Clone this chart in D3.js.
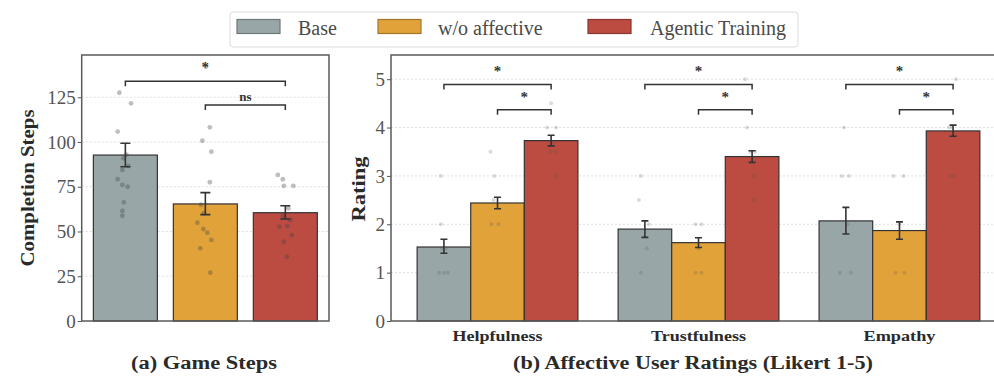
<!DOCTYPE html>
<html><head><meta charset="utf-8">
<script src="https://cdn.jsdelivr.net/npm/d3@7"></script>
<style>body{margin:0;background:#fff}svg{display:block}text{font-family:"Liberation Serif","Times New Roman",serif}</style>
</head><body>
<svg id="c" width="994" height="380"></svg>
<script>
// ---------- data ----------
const series = ["Base", "w/o affective", "Agentic Training"];
const colors = ["#98a6a7", "#e1a23a", "#bc4b41"];

// (a) game steps
const stepMeans = [92.7, 65.4, 60.5];
const stepErrLo = [86.2, 59.4, 57.0];
const stepErrHi = [99.3, 71.7, 64.4];
const stepPoints = [
  [[127.5,-6],[121.6,5.7],[105.8,-7.7],[93,1],[90.9,-2],[86.6,3],[84.4,-3],[79.2,-7.7],[76,-3],[75,2.3],[66.3,-1.5],[61.5,-3],[58.8,-3]],
  [[142,0.5],[108.2,4.5],[100.7,-3],[94.6,6],[77.5,4.5],[65,-4.5],[60.2,-1.5],[54.9,-8],[51.4,-2],[49.3,2],[45.3,6],[40.6,-5],[27,5]],
  [[81.6,-7.5],[79.2,-2.5],[75.5,-1.5],[75.5,8],[63,3],[58.8,-2.5],[56.4,5],[52.7,-6],[53,2],[48,6.5],[44.3,-1.5],[35.9,1.5]]
];
const stepTicks = [0, 25, 50, 75, 100, 125];

// (b) ratings
const aspects = ["Helpfulness", "Trustfulness", "Empathy"];
const ratingMeans = [[1.53, 2.44, 3.73], [1.90, 1.62, 3.40], [2.07, 1.87, 3.93]];
const ratingErrLo = [[1.40, 2.32, 3.62], [1.73, 1.52, 3.28], [1.80, 1.69, 3.82]];
const ratingErrHi = [[1.69, 2.56, 3.84], [2.07, 1.72, 3.52], [2.35, 2.05, 4.05]];
const ratingPoints = [
  [[[3,-3],[2,-3],[1.5,-2],[1,-5],[1,0],[1,4],[1.5,2]], [[3.5,-7],[3,-3],[2.5,-4],[2,-6],[2,1]], [[4.5,0],[4,-4],[4,5],[3.5,-1],[3.5,4],[3,4],[3.7,1]]],
  [[[3,-4],[2.5,-6],[1.5,2],[1,-4],[2,4]], [[2,-3],[2,3],[1.5,0],[1,-3],[1,3]], [[5,-7],[4,-5],[3.5,-2],[3.5,3],[3,2],[2.5,2]]],
  [[[4,-2],[3,-4],[3,3],[2,2],[1,-6],[1,5]], [[3,-6],[3,4],[2,0],[1,-4],[1,5]], [[5,3],[4,-1],[4,-4],[3,-2],[3,2]]]
];
const ratingTicks = [0, 1, 2, 3, 4, 5];

// ---------- drawing ----------
const svg = d3.select("#c");
const frameC = "#5a5a5a", tickC = "#555", inkC = "#333";

function frameAxis(g, y, ticks, x0, x1, y0, y1, fmt) {
  // grid
  g.selectAll(".grid").data(ticks.filter(t => t > 0)).join("line")
    .attr("x1", x0).attr("x2", x1).attr("y1", d => y(d)).attr("y2", d => y(d))
    .attr("stroke", "#dedede").attr("stroke-width", 1).attr("stroke-dasharray", "2,2");
  const ax = g.append("g").attr("transform", `translate(${x0},0)`)
    .call(d3.axisLeft(y).tickValues(ticks).tickSize(4).tickPadding(2).tickFormat(fmt));
  ax.select(".domain").remove();
  ax.selectAll("line").attr("stroke", tickC).attr("stroke-width", 1);
  ax.selectAll("text").attr("font-size", 19).attr("fill", tickC)
    .attr("font-family", '"Liberation Serif",serif');
}
function frame(g, x0, x1, y0, y1) {
  g.append("rect").attr("x", x0).attr("y", y0).attr("width", x1 - x0).attr("height", y1 - y0)
    .attr("fill", "none").attr("stroke", frameC).attr("stroke-width", 1.5);
}
function bracket(g, xa, xb, yy, label, ly, fs) {
  g.append("path").attr("d", `M${xa},${yy + 5}V${yy}H${xb}V${yy + 5}`)
    .attr("fill", "none").attr("stroke", inkC).attr("stroke-width", 1.5);
  g.append("text").attr("x", (xa + xb) / 2).attr("y", ly).attr("text-anchor", "middle")
    .attr("dominant-baseline", "central").attr("font-size", fs).attr("font-weight", "bold")
    .attr("fill", inkC).text(label);
}
function errbar(g, cx, ylo, yhi, cap) {
  g.append("path").attr("d", `M${cx},${ylo}V${yhi}M${cx - cap},${ylo}H${cx + cap}M${cx - cap},${yhi}H${cx + cap}`)
    .attr("fill", "none").attr("stroke", inkC).attr("stroke-width", 1.6);
}

// ---- panel (a) ----
{
  const x0 = 81.7, x1 = 329, y0 = 55, y1 = 321;
  const g = svg.append("g");
  const y = d3.scaleLinear().domain([0, 148.6]).range([y1, y0]);
  const x = d3.scaleBand().domain(series).range([x0, x1]).paddingInner(0.2).paddingOuter(0.146);
  frameAxis(g, y, stepTicks, x0, x1, y0, y1, d3.format("d"));
  series.forEach((s, i) => {
    g.append("rect").attr("x", x(s)).attr("y", y(stepMeans[i])).attr("width", x.bandwidth())
      .attr("height", y(0) - y(stepMeans[i])).attr("fill", colors[i]).attr("stroke", inkC).attr("stroke-width", 1.2);
  });
  series.forEach((s, i) => {
    const cx = x(s) + x.bandwidth() / 2;
    g.selectAll(null).data(stepPoints[i]).join("circle")
      .attr("cx", d => cx + d[1]).attr("cy", d => y(d[0])).attr("r", 2.4)
      .attr("fill", "#444").attr("fill-opacity", 0.35);
    errbar(g, cx, y(stepErrLo[i]), y(stepErrHi[i]), 5);
  });
  frame(g, x0, x1, y0, y1);
  const c = i => x(series[i]) + x.bandwidth() / 2;
  bracket(g, c(0), c(2), y(134), "*", 67, 15);
  bracket(g, c(1), c(2), y(120.7), "ns", 96.5, 13);
  g.append("text").attr("transform", "translate(34,188) rotate(-90)").attr("text-anchor", "middle")
    .attr("font-size", 18).attr("font-weight", "bold").attr("fill", "#2a2a2a")
    .attr("textLength", 157).attr("lengthAdjust", "spacingAndGlyphs").text("Completion Steps");
  g.append("text").attr("x", 204).attr("y", 369).attr("text-anchor", "middle")
    .attr("font-size", 18).attr("font-weight", "bold").attr("fill", "#2a2a2a")
    .attr("textLength", 146).attr("lengthAdjust", "spacingAndGlyphs").text("(a) Game Steps");
}

// ---- panel (b) ----
{
  const x0 = 391, x1 = 1006, y0 = 55, y1 = 321;
  const g = svg.append("g");
  const y = d3.scaleLinear().domain([0, 5.5]).range([y1, y0]);
  const x = d3.scaleBand().domain(aspects).range([x0, x1]).paddingInner(0.2).paddingOuter(0.13);
  const xs = d3.scaleBand().domain(series).range([0, x.bandwidth()]);
  frameAxis(g, y, ratingTicks, x0, x1, y0, y1, d3.format("d"));
  aspects.forEach((a, j) => {
    series.forEach((s, i) => {
      const v = ratingMeans[j][i];
      g.append("rect").attr("x", x(a) + xs(s)).attr("y", y(v)).attr("width", xs.bandwidth())
        .attr("height", y(0) - y(v)).attr("fill", colors[i]).attr("stroke", inkC).attr("stroke-width", 1.2);
    });
  });
  aspects.forEach((a, j) => {
    series.forEach((s, i) => {
      const cx = x(a) + xs(s) + xs.bandwidth() / 2;
      g.selectAll(null).data(ratingPoints[j][i]).join("circle")
        .attr("cx", d => cx + d[1]).attr("cy", d => y(d[0])).attr("r", 2)
        .attr("fill", "#555").attr("fill-opacity", 0.22);
      errbar(g, cx, y(ratingErrLo[j][i]), y(ratingErrHi[j][i]), 3.5);
    });
    const c = i => x(a) + xs(series[i]) + xs.bandwidth() / 2;
    bracket(g, c(0), c(2), y(4.89), "*", 71, 15);
    bracket(g, c(1), c(2), y(4.37), "*", 97, 15);
  });
  frame(g, x0, x1, y0, y1);
  const widths = [90, 95, 72];
  aspects.forEach((a, j) => {
    g.append("text").attr("x", x(a) + x.bandwidth() / 2).attr("y", 341).attr("text-anchor", "middle")
      .attr("font-size", 14).attr("font-weight", "bold").attr("fill", "#2a2a2a")
      .attr("textLength", widths[j]).attr("lengthAdjust", "spacingAndGlyphs").text(a);
  });
  g.append("text").attr("transform", "translate(364.5,189) rotate(-90)").attr("text-anchor", "middle")
    .attr("font-size", 18.5).attr("font-weight", "bold").attr("fill", "#2a2a2a")
    .attr("textLength", 65).attr("lengthAdjust", "spacingAndGlyphs").text("Rating");
  g.append("text").attr("x", 693).attr("y", 369).attr("text-anchor", "middle")
    .attr("font-size", 18).attr("font-weight", "bold").attr("fill", "#2a2a2a")
    .attr("textLength", 360).attr("lengthAdjust", "spacingAndGlyphs").text("(b) Affective User Ratings (Likert 1-5)");
}

// ---- legend ----
{
  const g = svg.append("g");
  g.append("rect").attr("x", 230).attr("y", 12).attr("width", 568).attr("height", 35).attr("rx", 3)
    .attr("fill", "#fff").attr("stroke", "#dcdcdc").attr("stroke-width", 1);
  const px = [237, 378, 588], tx = [298, 438, 650];
  series.forEach((s, i) => {
    g.append("rect").attr("x", px[i]).attr("y", 19.5).attr("width", 43).attr("height", 14)
      .attr("fill", colors[i]).attr("stroke", d3.color(colors[i]).darker(0.9)).attr("stroke-width", 1.2);
    g.append("text").attr("x", tx[i]).attr("y", 35).attr("font-size", 20).attr("fill", "#4a4a4a").text(s);
  });
}
</script>
</body></html>
